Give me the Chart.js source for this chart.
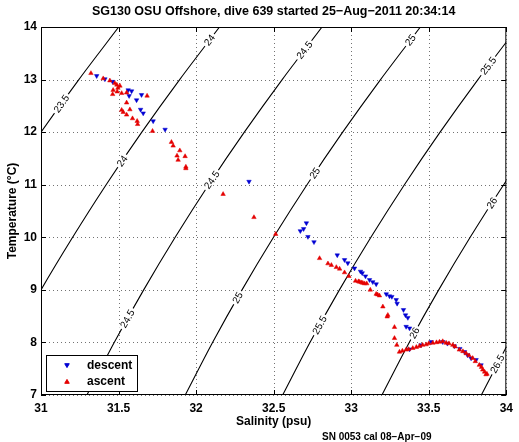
<!DOCTYPE html>
<html>
<head>
<meta charset="utf-8">
<script src="https://cdn.jsdelivr.net/npm/chart.js@4.4.1/dist/chart.umd.min.js"></script>
<style>
  html, body { margin: 0; padding: 0; background: #fff; }
</style>
</head>
<body>
<canvas id="chart" width="519" height="442"></canvas>
<script>
// sigma-t contours, salinity at T = 7, 8, ... 14
const contourT = [7, 8, 9, 10, 11, 12, 13, 14];
const sig235 = [29.985, 30.161, 30.351, 30.554, 30.770, 31.000, 31.244, 31.501];
const sig240 = [30.635, 30.811, 31.000, 31.204, 31.420, 31.650, 31.894, 32.151];
const sig245 = [31.296, 31.472, 31.662, 31.865, 32.081, 32.311, 32.555, 32.812];
const sig250 = [31.930, 32.106, 32.296, 32.499, 32.715, 32.945, 33.189, 33.446];
const sig255 = [32.558, 32.734, 32.924, 33.127, 33.343, 33.573, 33.817, 34.074];
const sig260 = [33.198, 33.374, 33.564, 33.767, 33.983, 34.214];
const sig265 = [33.839, 34.015];
const contourLevels = ['23.5', '24', '24.5', '25', '25.5', '26', '26.5'];
const contourS = [sig235, sig240, sig245, sig250, sig255, sig260, sig265];

// where clabel put the numbers (level, temperature along the line)
const labelLevels = ['23.5', '24', '24', '24.5', '24.5', '24.5', '25', '25', '25', '25.5', '25.5', '26', '26', '26.5'];
const labelT = [12.54, 13.75, 11.45, 13.56, 11.09, 8.45, 13.75, 11.22, 8.85, 13.26, 8.33, 10.65, 8.18, 7.59];

// axis ticks
const salTicks = [31, 31.5, 32, 32.5, 33, 33.5, 34];
const tempTicks = [7, 8, 9, 10, 11, 12, 13, 14];

// dive profile
const descentS = [31.359, 31.412, 31.462, 31.562, 31.584, 31.568, 31.648, 31.616, 31.642, 31.659,
  31.723, 31.800, 32.341, 32.711, 32.693, 32.672, 32.721, 32.760, 32.910, 32.957,
  32.978, 33.021, 33.060, 33.071, 33.092, 33.118, 33.139, 33.161, 33.226, 33.247,
  33.262, 33.290, 33.296, 33.337, 33.350, 33.365, 33.354, 33.376, 33.376, 33.515,
  33.590, 33.665, 33.730, 33.773, 33.805, 33.837, 33.450, 33.620, 33.700, 33.750];
const descentT = [13.07, 13.01, 12.96, 12.80, 12.78, 12.69, 12.71, 12.61, 12.43, 12.36,
  12.21, 12.05, 11.06, 10.27, 10.16, 10.12, 10.01, 9.91, 9.66, 9.57,
  9.51, 9.41, 9.35, 9.32, 9.26, 9.19, 9.15, 9.11, 8.92, 8.88,
  8.87, 8.81, 8.74, 8.62, 8.52, 8.47, 8.30, 8.27, 7.87, 8.01,
  8.01, 7.93, 7.82, 7.70, 7.67, 7.57, 7.95, 7.98, 7.88, 7.76];

const ascentS = [31.322, 31.401, 31.444, 31.476, 31.489, 31.509, 31.496, 31.465, 31.491, 31.462,
  31.520, 31.552, 31.684, 31.552, 31.573, 31.520, 31.530, 31.552, 31.590, 31.620,
  31.623, 31.719, 31.841, 31.852, 31.895, 31.877, 31.929, 31.884, 31.934, 31.934,
  32.174, 32.373, 32.513, 32.796, 32.850, 32.872, 32.904, 32.925, 32.957, 32.985,
  33.028, 33.047, 33.067, 33.086, 33.123, 33.161, 33.182, 33.204, 33.236, 33.232,
  33.279, 33.279, 33.294, 33.311, 33.354, 33.397, 33.440, 33.483, 33.526, 33.569,
  33.612, 33.655, 33.697, 33.741, 33.783, 33.826, 33.848, 33.869,
  33.330, 33.370, 33.420, 33.460, 33.500, 33.550, 33.590, 33.630, 33.670, 33.720,
  33.760, 33.800, 33.840, 33.860, 33.875, 33.055, 33.075, 33.100, 33.170];
const ascentT = [13.12, 13.02, 12.98, 12.93, 12.90, 12.88, 12.84, 12.80, 12.77, 12.72,
  12.74, 12.75, 12.69, 12.56, 12.43, 12.42, 12.38, 12.33, 12.26, 12.21,
  12.15, 12.02, 11.81, 11.74, 11.65, 11.55, 11.54, 11.47, 11.34, 11.31,
  10.82, 10.38, 10.06, 9.60, 9.50, 9.47, 9.43, 9.40, 9.33, 9.26,
  9.17, 9.16, 9.14, 9.12, 9.00, 8.92, 8.89, 8.68, 8.52, 8.49,
  8.29, 8.08, 7.95, 7.82, 7.86, 7.89, 7.93, 7.96, 7.99, 8.01,
  7.99, 7.95, 7.86, 7.79, 7.70, 7.57, 7.48, 7.39,
  7.84, 7.87, 7.91, 7.95, 7.98, 8.00, 8.02, 7.98, 7.92, 7.83,
  7.75, 7.64, 7.53, 7.44, 7.40, 9.15, 9.13, 9.12, 8.91];

const FONT = '"Liberation Sans", Arial, Helvetica, sans-serif';
const BLUE = 'rgb(0,0,210)';
const RED = 'rgb(228,0,0)';

const pts = (xs, ys) => xs.map((v, i) => ({ x: v, y: ys[i] }));

// ascent first so it is painted last (on top), contours after so they sit underneath
const datasets = [
  { label: 'ascent', data: pts(ascentS, ascentT), pointStyle: 'triangle', pointRadius: 2.6,
    backgroundColor: RED, borderColor: RED, borderWidth: 0.5 },
  { label: 'descent', data: pts(descentS, descentT), pointStyle: 'triangle', pointRotation: 180,
    pointRadius: 2.6, backgroundColor: BLUE, borderColor: BLUE, borderWidth: 0.5 }
];
contourLevels.forEach((lev, k) => {
  datasets.push({
    type: 'line', label: 'sigma ' + lev,
    data: pts(contourS[k], contourT),
    borderColor: '#000', borderWidth: 1.1, pointRadius: 0, tension: 0.3, fill: false
  });
});
const FIRST_CONTOUR = 2;

function drawContourLabels(chart) {
  const { ctx, chartArea: a, scales: { x, y } } = chart;
  ctx.save();
  ctx.beginPath();
  ctx.rect(a.left, a.top, a.right - a.left, a.bottom - a.top);
  ctx.clip();
  ctx.font = '10px ' + FONT;
  ctx.textAlign = 'center';
  ctx.textBaseline = 'middle';
  labelLevels.forEach((lev, i) => {
    const s = contourS[contourLevels.indexOf(lev)];
    const t = labelT[i];
    const j = Math.min(Math.floor(t - contourT[0]), s.length - 2);
    const x1 = x.getPixelForValue(s[j]), y1 = y.getPixelForValue(contourT[j]);
    const x2 = x.getPixelForValue(s[j + 1]), y2 = y.getPixelForValue(contourT[j + 1]);
    const f = (t - contourT[j]) / (contourT[j + 1] - contourT[j]);
    const px = x1 + (x2 - x1) * f, py = y1 + (y2 - y1) * f;
    const w = ctx.measureText(lev).width;
    ctx.save();
    ctx.translate(px, py);
    ctx.rotate(Math.atan2(y2 - y1, x2 - x1));
    ctx.fillStyle = '#fff';
    ctx.fillRect(-w / 2 - 2, -4, w + 4, 8);
    ctx.fillStyle = '#000';
    ctx.fillText(lev, 0, 0.5);
    ctx.restore();
  });
  ctx.restore();
}

function marker(ctx, x, y, color, rot) {
  const opts = { pointStyle: 'triangle', radius: 2.6, rotation: rot, borderWidth: 0.5 };
  ctx.fillStyle = color;
  ctx.strokeStyle = color;
  Chart.helpers.drawPoint(ctx, opts, x, y);
}

const decorations = {
  id: 'decorations',
  beforeDatasetsDraw(chart) {
    // dotted grid, matlab style
    const { ctx, chartArea: a, scales: { x, y } } = chart;
    ctx.save();
    ctx.strokeStyle = 'rgba(0,0,0,0.55)';
    ctx.lineWidth = 1;
    ctx.setLineDash([1, 3]);
    ctx.beginPath();
    salTicks.forEach(v => {
      const px = Math.round(x.getPixelForValue(v)) + 0.5;
      ctx.moveTo(px, a.top); ctx.lineTo(px, a.bottom);
    });
    tempTicks.forEach(v => {
      const py = Math.round(y.getPixelForValue(v)) + 0.5;
      ctx.moveTo(a.left, py); ctx.lineTo(a.right, py);
    });
    ctx.stroke();
    ctx.restore();
  },
  afterDatasetDraw(chart, args) {
    if (args.index === FIRST_CONTOUR) drawContourLabels(chart);
  },
  afterDraw(chart) {
    const { ctx, chartArea: a, scales: { x, y } } = chart;
    ctx.save();
    // axes box and inward ticks
    ctx.strokeStyle = '#000';
    ctx.lineWidth = 1;
    ctx.strokeRect(a.left + 0.5, a.top + 0.5, a.right - a.left - 1, a.bottom - a.top - 1);
    ctx.beginPath();
    salTicks.forEach(v => {
      const px = Math.round(x.getPixelForValue(v)) + 0.5;
      ctx.moveTo(px, a.bottom); ctx.lineTo(px, a.bottom - 5);
      ctx.moveTo(px, a.top); ctx.lineTo(px, a.top + 5);
    });
    tempTicks.forEach(v => {
      const py = Math.round(y.getPixelForValue(v)) + 0.5;
      ctx.moveTo(a.left, py); ctx.lineTo(a.left + 5, py);
      ctx.moveTo(a.right, py); ctx.lineTo(a.right - 5, py);
    });
    ctx.stroke();

    // texts
    ctx.fillStyle = '#000';
    ctx.textAlign = 'center';
    ctx.textBaseline = 'middle';
    ctx.font = 'bold 12.5px ' + FONT;
    ctx.fillText('SG130 OSU Offshore, dive 639 started 25\u2212Aug\u22122011 20:34:14', (a.left + a.right) / 2, 12);
    ctx.font = 'bold 12px ' + FONT;
    ctx.fillText('Salinity (psu)', (a.left + a.right) / 2, 422);
    ctx.save();
    ctx.translate(13, (a.top + a.bottom) / 2);
    ctx.rotate(-Math.PI / 2);
    ctx.fillText('Temperature (\u00B0C)', 0, 0);
    ctx.restore();
    ctx.font = 'bold 10px ' + FONT;
    ctx.textAlign = 'left';
    ctx.fillText('SN 0053 cal 08\u2212Apr\u221209', 322, 437);

    // legend
    ctx.fillStyle = '#fff';
    ctx.fillRect(46.5, 355.5, 91, 36);
    ctx.strokeRect(46.5, 355.5, 91, 36);
    marker(ctx, 67, 365, BLUE, 180);
    marker(ctx, 67, 382, RED, 0);
    ctx.fillStyle = '#000';
    ctx.font = 'bold 12px ' + FONT;
    ctx.textAlign = 'left';
    ctx.fillText('descent', 87, 366);
    ctx.fillText('ascent', 87, 382);
    ctx.restore();
  }
};

const tickFont = { family: FONT, size: 12, weight: 'bold' };

new Chart(document.getElementById('chart'), {
  type: 'scatter',
  data: { datasets },
  options: {
    responsive: false,
    animation: false,
    devicePixelRatio: 1,
    layout: { padding: { top: 27, right: 12, left: 0, bottom: 0 } },
    plugins: { legend: { display: false }, tooltip: { enabled: false } },
    scales: {
      x: {
        type: 'linear', min: 31, max: 34,
        afterBuildTicks(scale) { scale.ticks = salTicks.map(v => ({ value: v })); },
        ticks: { color: '#000', font: tickFont, padding: 6, maxRotation: 0, callback: v => String(v) },
        grid: { display: false, drawTicks: false }, border: { display: false },
        afterFit(scale) { scale.height = 47; }
      },
      y: {
        type: 'linear', min: 7, max: 14,
        afterBuildTicks(scale) { scale.ticks = tempTicks.map(v => ({ value: v })); },
        ticks: { color: '#000', font: tickFont, padding: 4, callback: v => String(v) },
        grid: { display: false, drawTicks: false }, border: { display: false },
        afterFit(scale) { scale.width = 41; }
      }
    }
  },
  plugins: [decorations]
});
</script>
</body>
</html>
